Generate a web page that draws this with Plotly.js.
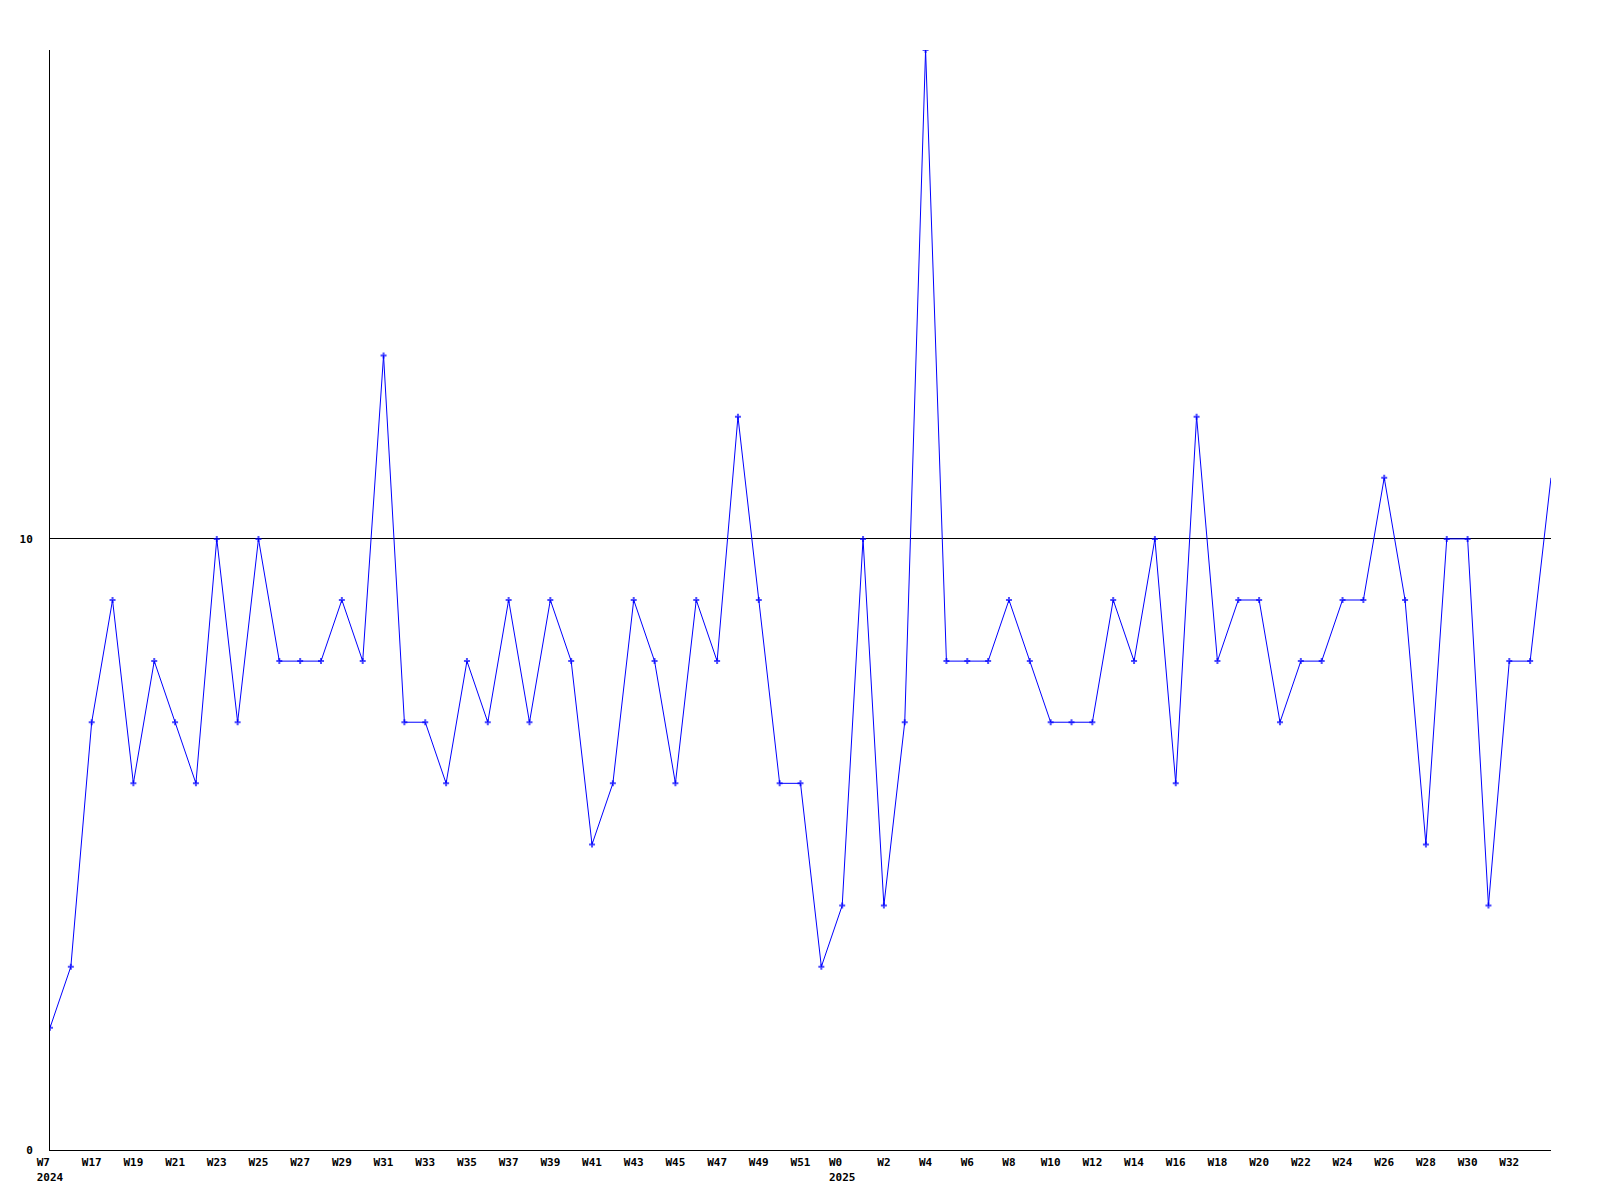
<!DOCTYPE html>
<html>
<head>
<meta charset="utf-8">
<script src="https://cdn.plot.ly/plotly-3.0.1.min.js"></script>
<style>html,body{margin:0;padding:0;background:#fff;}#chart{width:1600px;height:1200px;}</style>
</head>
<body>
<div id="chart"></div>
<script>
// Weeks: 2024 W15..W52, 2025 W0..W34
const weeks = ["W15","W16","W17","W18","W19","W20","W21","W22","W23","W24","W25","W26","W27","W28","W29","W30","W31","W32","W33","W34","W35","W36","W37","W38","W39","W40","W41","W42","W43","W44","W45","W46","W47","W48","W49","W50","W51","W52",
"W0","W1","W2","W3","W4","W5","W6","W7","W8","W9","W10","W11","W12","W13","W14","W15","W16","W17","W18","W19","W20","W21","W22","W23","W24","W25","W26","W27","W28","W29","W30","W31","W32","W33","W34"];
const values = [2,3,7,9,6,8,7,6,10,7,10,8,8,8,9,8,13,7,7,6,8,7,9,7,9,8,5,6,9,8,6,9,8,12,9,6,6,3,
4,10,4,7,18,8,8,8,9,8,7,7,7,9,8,10,6,12,8,9,9,7,8,8,9,9,11,9,5,10,10,4,8,8,11];
const tickIdx = [0,2,4,6,8,10,12,14,16,18,20,22,24,26,28,30,32,34,36,38,40,42,44,46,48,50,52,54,56,58,60,62,64,66,68,70];
const tickLabels = ["W7\u00a0\u00a0<br>2024","W17","W19","W21","W23","W25","W27","W29","W31","W33","W35","W37","W39","W41","W43","W45","W47","W49","W51","W0\u00a0\u00a0<br>2025","W2","W4","W6","W8","W10","W12","W14","W16","W18","W20","W22","W24","W26","W28","W30","W32"];
const yTicks = [0,10];

const xs = values.map((v,i)=>i);
const sizes = values.map((v,i)=> i===values.length-1 ? 0 : 5);

const font = {family:"DejaVu Sans Mono, monospace", size:11, color:"#000", weight:"bold"};

Plotly.newPlot("chart",[{
  x: xs, y: values, text: weeks, type:"scatter", mode:"lines+markers",
  line:{color:"#0000ff", width:1},
  marker:{color:"#0000ff", symbol:"cross", size:sizes, line:{width:0}},
  hoverinfo:"text+y"
}],{
  width:1600, height:1200,
  margin:{l:50,r:49,t:50,b:50},
  paper_bgcolor:"#fff", plot_bgcolor:"#fff",
  showlegend:false,
  font: font,
  xaxis:{range:[0,values.length-1], tickmode:"array", tickvals:tickIdx, ticktext:tickLabels,
    showgrid:false, zeroline:false, showline:true, linecolor:"#000", linewidth:1,
    ticks:"", tickfont:font, ticklabelstandoff:2, fixedrange:true},
  yaxis:{range:[0,18], tickmode:"array", tickvals:yTicks, ticktext:yTicks.map(String),
    showgrid:true, gridcolor:"#000", gridwidth:1, zeroline:false, showline:true, linecolor:"#000", linewidth:1,
    ticks:"", tickfont:font, ticklabelstandoff:14, fixedrange:true}
},{displayModeBar:false, staticPlot:true});
</script>
</body>
</html>
